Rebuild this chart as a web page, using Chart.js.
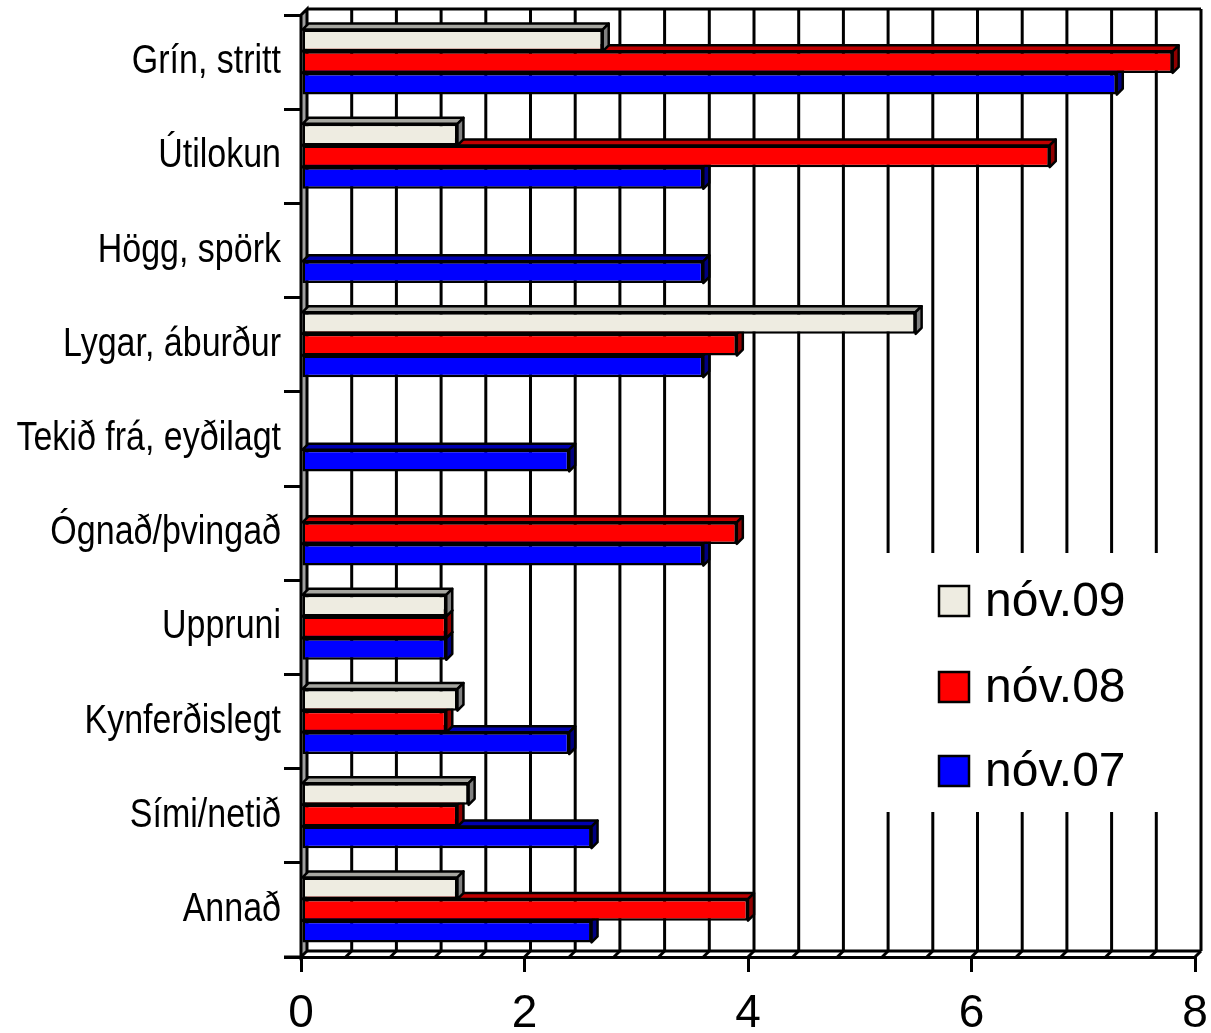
<!DOCTYPE html>
<html>
<head>
<meta charset="utf-8">
<script src="https://cdn.jsdelivr.net/npm/chart.js@4"></script>
<style>
  html, body { margin: 0; padding: 0; background: #fff; }
  canvas { display: block; }
</style>
</head>
<body>
<canvas id="chart" width="1211" height="1033"></canvas>
<script>
// categories, top to bottom
const categories = ['Grín, stritt', 'Útilokun', 'Högg, spörk', 'Lygar, áburður', 'Tekið frá, eyðilagt',
    'Ógnað/þvingað', 'Uppruni', 'Kynferðislegt', 'Sími/netið', 'Annað'];
const seriesNames = ['nóv.09', 'nóv.08', 'nóv.07'];
const nov09 = [2.7, 1.4, 0, 5.5, 0, 0, 1.3, 1.4, 1.5, 1.4];
const nov08 = [7.8, 6.7, 0, 3.9, 0, 3.9, 1.3, 1.3, 1.4, 4.0];
const nov07 = [7.3, 3.6, 3.6, 3.6, 2.4, 3.6, 1.3, 2.4, 2.6, 2.6];
const xTickLabels = [0, 2, 4, 6, 8];

// front / top / side colours per series
const faceColors = ['#EEECE1', '#FF0000', '#0000FF'];
const topColors = ['#A6A6A0', '#C00000', '#0000B0'];
const sideColors = ['#808080', '#900000', '#000080'];

const DX = 6, DY = 6; // 3d depth
const LW = 3;

function isMajor(v) {
    let r = Math.round(v * 10) / 10;
    return xTickLabels.indexOf(r) !== -1;
}

// walls, floor, back gridlines, 3d faces, labels, legend
const wallPlugin = {
    id: 'walls',
    beforeDatasetsDraw(chart) {
        const ctx = chart.ctx;
        const a = chart.chartArea;
        const xs = chart.scales.x;
        const right = xs.getPixelForValue(8);
        ctx.save();
        ctx.lineWidth = LW;
        ctx.strokeStyle = '#000';
        // left wall
        ctx.fillStyle = '#A0A0A0';
        ctx.beginPath();
        ctx.moveTo(a.left, a.top);
        ctx.lineTo(a.left + DX, a.top - DY);
        ctx.lineTo(a.left + DX, a.bottom - DY);
        ctx.lineTo(a.left, a.bottom);
        ctx.closePath();
        ctx.fill();
        ctx.stroke();
        // back gridlines
        for (let i = 1; i <= 20; i++) {
            const px = xs.getPixelForValue(i * 0.4) + DX;
            ctx.beginPath();
            ctx.moveTo(px, a.top - DY);
            ctx.lineTo(px, a.bottom - DY);
            ctx.stroke();
        }
        // top edge of back wall and floor back edge
        ctx.beginPath();
        ctx.moveTo(a.left + DX, a.top - DY);
        ctx.lineTo(right + DX, a.top - DY);
        ctx.moveTo(a.left + DX, a.bottom - DY);
        ctx.lineTo(right + DX, a.bottom - DY);
        ctx.stroke();
        // floor slants
        for (let i = 1; i <= 20; i++) {
            const px = xs.getPixelForValue(i * 0.4);
            ctx.beginPath();
            ctx.moveTo(px, a.bottom);
            ctx.lineTo(px + DX, a.bottom - DY);
            ctx.stroke();
        }
        // axis line stub on the left
        ctx.beginPath();
        ctx.moveTo(a.left - 17, a.bottom);
        ctx.lineTo(a.left, a.bottom);
        ctx.stroke();
        ctx.restore();
    },
    beforeDatasetDraw(chart, args) {
        const ctx = chart.ctx;
        const i = args.index;
        const meta = args.meta;
        ctx.save();
        ctx.lineWidth = LW - 0.5;
        ctx.strokeStyle = '#000';
        ctx.lineJoin = 'round';
        meta.data.forEach(function (el, j) {
            if (!chart.data.datasets[i].data[j]) return;
            const p = el.getProps(['x', 'y', 'base', 'height'], true);
            const x0 = p.base, x1 = p.x;
            const yT = p.y - p.height / 2, yB = p.y + p.height / 2;
            ctx.fillStyle = topColors[i];
            ctx.beginPath();
            ctx.moveTo(x0, yT);
            ctx.lineTo(x0 + DX, yT - DY);
            ctx.lineTo(x1 + DX, yT - DY);
            ctx.lineTo(x1, yT);
            ctx.closePath();
            ctx.fill();
            ctx.stroke();
            ctx.fillStyle = sideColors[i];
            ctx.beginPath();
            ctx.moveTo(x1, yT);
            ctx.lineTo(x1 + DX, yT - DY);
            ctx.lineTo(x1 + DX, yB - DY);
            ctx.lineTo(x1, yB);
            ctx.closePath();
            ctx.fill();
            ctx.stroke();
        });
        ctx.restore();
    },
    afterDraw(chart) {
        const ctx = chart.ctx;
        const ys = chart.scales.y;
        // category labels in a condensed face
        ctx.save();
        ctx.font = '40px "Liberation Sans", Arial, sans-serif';
        ctx.fillStyle = '#000';
        ctx.textAlign = 'right';
        ctx.textBaseline = 'middle';
        chart.data.labels.forEach(function (lab, j) {
            const py = ys.getPixelForTick(j);
            ctx.save();
            ctx.translate(281, py);
            ctx.scale(0.85, 1);
            ctx.fillText(lab, 0, 0);
            ctx.restore();
        });
        ctx.restore();

        // legend inside the plot
        const right = chart.scales.x.getPixelForValue(8) + DX;
        ctx.save();
        ctx.fillStyle = '#fff';
        ctx.fillRect(886, 553, right - 2 - 886, 259);
        ctx.font = '48px "Liberation Sans", Arial, sans-serif';
        ctx.textBaseline = 'middle';
        const ly = [601, 687, 771];
        seriesNames.forEach(function (name, k) {
            ctx.fillStyle = faceColors[k];
            ctx.fillRect(939, ly[k] - 15, 30, 30);
            ctx.lineWidth = 2.5;
            ctx.strokeStyle = '#000';
            ctx.strokeRect(939, ly[k] - 15, 30, 30);
            ctx.fillStyle = '#000';
            ctx.fillText(name, 985, ly[k] + 2);
        });
        ctx.restore();
    }
};

const seriesData = [nov09, nov08, nov07];

new Chart(document.getElementById('chart'), {
    type: 'bar',
    data: {
        labels: categories,
        datasets: seriesNames.map(function (name, k) {
            return {
                label: name,
                data: seriesData[k],
                backgroundColor: faceColors[k],
                borderColor: '#000',
                borderWidth: 2.5,
                borderSkipped: false,
                categoryPercentage: 0.69,
                barPercentage: 1
            };
        })
    },
    options: {
        indexAxis: 'y',
        responsive: false,
        animation: false,
        layout: { padding: { top: 15, right: 16, left: 0, bottom: 0 } },
        plugins: {
            legend: { display: false },
            tooltip: { enabled: false }
        },
        scales: {
            x: {
                min: 0,
                max: 8,
                afterFit: function (s) {
                    s.height = 76;
                    s.paddingLeft = 0;
                    s.paddingRight = 0;
                },
                ticks: {
                    stepSize: 0.4,
                    autoSkip: false,
                    maxRotation: 0,
                    padding: 15,
                    color: '#000',
                    font: { family: '"Liberation Sans", Arial, sans-serif', size: 46 },
                    callback: function (v) {
                        return isMajor(v) ? String(Math.round(v)) : '';
                    }
                },
                grid: {
                    drawOnChartArea: false,
                    tickLength: 15,
                    lineWidth: LW,
                    color: function (c) { return c.tick && isMajor(c.tick.value) ? '#000' : 'rgba(0,0,0,0)'; }
                },
                border: { display: true, color: '#000', width: LW }
            },
            y: {
                afterFit: function (s) { s.width = 301; },
                ticks: { display: false },
                grid: {
                    offset: true,
                    drawOnChartArea: false,
                    tickLength: 17,
                    lineWidth: LW,
                    color: '#000'
                },
                border: { display: true, color: '#000', width: LW }
            }
        }
    },
    plugins: [wallPlugin]
});
</script>
</body>
</html>
